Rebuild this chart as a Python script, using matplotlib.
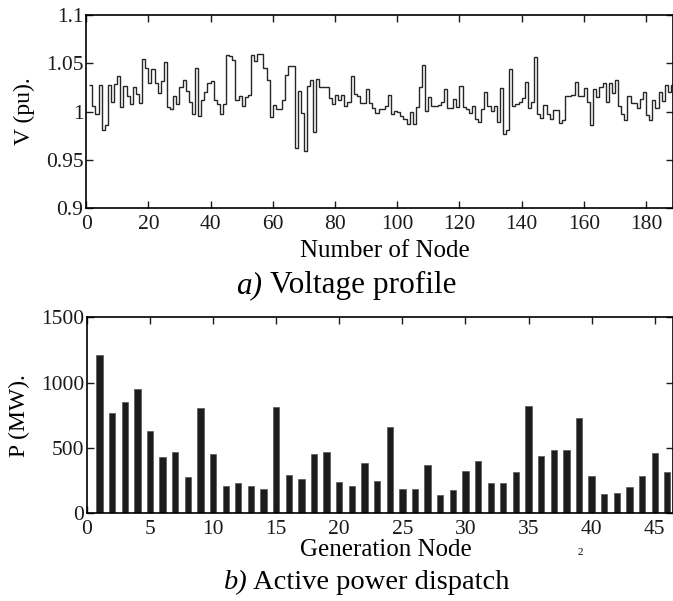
import numpy as np
import matplotlib
matplotlib.use('Agg')
import matplotlib.pyplot as plt

plt.rcParams['font.family'] = ['Liberation Serif', 'DejaVu Serif']

# voltage at each node (pu), nodes 1..189
voltage = [
    1.027, 1.006, 0.997, 1.027, 0.981, 0.986, 1.027, 1.010, 1.028, 1.037,
    1.005, 1.026, 1.016, 1.008, 1.025, 1.018, 1.009, 1.054, 1.045, 1.029,
    1.044, 1.029, 1.019, 1.031, 1.051, 1.005, 1.003, 1.016, 1.008, 1.025,
    1.033, 1.021, 1.010, 0.997, 1.045, 0.995, 1.012, 1.020, 1.029, 1.032,
    1.012, 1.008, 0.997, 1.008, 1.058, 1.057, 1.053, 1.012, 1.016, 1.006,
    1.015, 1.017, 1.058, 1.052, 1.059, 1.059, 1.045, 1.033, 0.994, 1.007,
    1.003, 1.003, 1.012, 1.038, 1.047, 1.047, 0.962, 1.021, 0.998, 0.959,
    1.026, 1.033, 0.979, 1.034, 1.025, 1.025, 1.025, 1.014, 1.008, 1.017,
    1.012, 1.017, 1.006, 1.010, 1.037, 1.018, 1.016, 1.009, 1.009, 1.023,
    1.009, 1.004, 0.998, 1.003, 1.003, 1.006, 1.017, 0.997, 1.001, 0.999,
    0.995, 0.992, 0.987, 0.999, 0.987, 1.005, 1.025, 1.048, 1.001, 1.015,
    1.006, 1.006, 1.007, 1.010, 1.023, 1.004, 1.004, 1.013, 1.005, 1.026,
    1.005, 1.003, 0.998, 1.006, 0.992, 0.989, 1.003, 1.020, 1.006, 1.001,
    1.006, 0.989, 1.024, 0.977, 0.981, 1.044, 1.006, 1.008, 1.010, 1.014,
    1.030, 1.004, 1.010, 1.056, 0.997, 0.993, 1.007, 0.997, 0.992, 1.002,
    1.002, 0.988, 0.991, 1.016, 1.016, 1.017, 1.030, 1.016, 1.016, 1.024,
    1.010, 0.986, 1.023, 1.015, 1.025, 1.029, 1.010, 1.029, 1.019, 1.033,
    1.006, 0.997, 0.991, 1.016, 1.009, 1.009, 1.004, 1.013, 1.020, 0.996,
    0.991, 1.012, 1.004, 1.020, 1.011, 1.027, 1.020, 1.027, 1.011,
]
v_ticks = [0.9, 0.95, 1.0, 1.05, 1.1]
v_ticklabels = ['0.9', '0.95', '1', '1.05', '1.1']
node_ticks = list(range(0, 181, 20))

# active power per generation node (MW), nodes 1..46
power = [
    1215, 770, 852, 952, 630, 434, 472, 281, 804, 454,
    209, 230, 209, 189, 811, 293, 263, 454, 472, 240,
    209, 388, 250, 663, 184, 184, 370, 140, 175, 324,
    400, 230, 230, 316, 821, 441, 485, 485, 730, 283,
    150, 155, 204, 283, 462, 316,
]
p_ticks = [0, 500, 1000, 1500]
gen_ticks = list(range(0, 46, 5))

W, H = 673, 601
fig = plt.figure(figsize=(W / 100, H / 100), dpi=100)


def px_box(left, top, right, bottom):
    return [left / W, 1 - bottom / H, (right - left) / W, (bottom - top) / H]


def style(ax):
    for s in ax.spines.values():
        s.set_linewidth(1.2)
    ax.tick_params(direction='in', top=True, right=True, length=5, width=1,
                   labelsize=15.5, colors='#1a1a1a')
    ax.tick_params(axis='y', pad=2)
    ax.tick_params(axis='x', pad=5)


def caption(x, y, tag, words, size, gap):
    # italic tag, then plain words
    fig.text(x / W, 1 - y / H, tag, fontsize=size, style='italic',
             ha='left', va='baseline')
    fig.text((x + gap) / W, 1 - y / H, words, fontsize=size,
             ha='left', va='baseline')


# a) voltage profile
ax1 = fig.add_axes(px_box(86.1, 14.7, 673, 208.3))
nodes = np.arange(1, len(voltage) + 1)
ax1.stairs(voltage, np.append(nodes, nodes[-1] + 1), baseline=None,
           color='#262626', lw=1.0)
ax1.set_xlim(0, 188.65)
ax1.set_ylim(0.9, 1.1)
ax1.set_yticks(v_ticks)
ax1.set_yticklabels(v_ticklabels)
ax1.set_xticks(node_ticks)
style(ax1)
ax1.set_ylabel('V (pu).', fontsize=17, labelpad=8)

fig.text(384.5 / W, 1 - 256.7 / H, 'Number of Node', fontsize=18,
         ha='center', va='baseline')
caption(236, 293, 'a)', 'Voltage profile', 22.5, 34)

# b) active power dispatch
ax2 = fig.add_axes(px_box(86.9, 317.3, 673, 513.3))
gen = np.arange(1, len(power) + 1)
ax2.bar(gen, power, width=0.5, color='#1c1c1c', edgecolor='#555555', lw=0.5)
ax2.set_xlim(0, 46.45)
ax2.set_ylim(0, 1500)
ax2.set_yticks(p_ticks)
ax2.set_xticks(gen_ticks)
style(ax2)
ax2.set_ylabel('P (MW).', fontsize=17, labelpad=8)

fig.text(385.5 / W, 1 - 556 / H, 'Generation Node', fontsize=18,
         ha='center', va='baseline')
caption(224, 589, 'b)', 'Active power dispatch', 20.5, 29)
fig.text(580 / W, 1 - 555 / H, '2', fontsize=8, ha='center', va='baseline')

fig.savefig('out.png', dpi=100)
